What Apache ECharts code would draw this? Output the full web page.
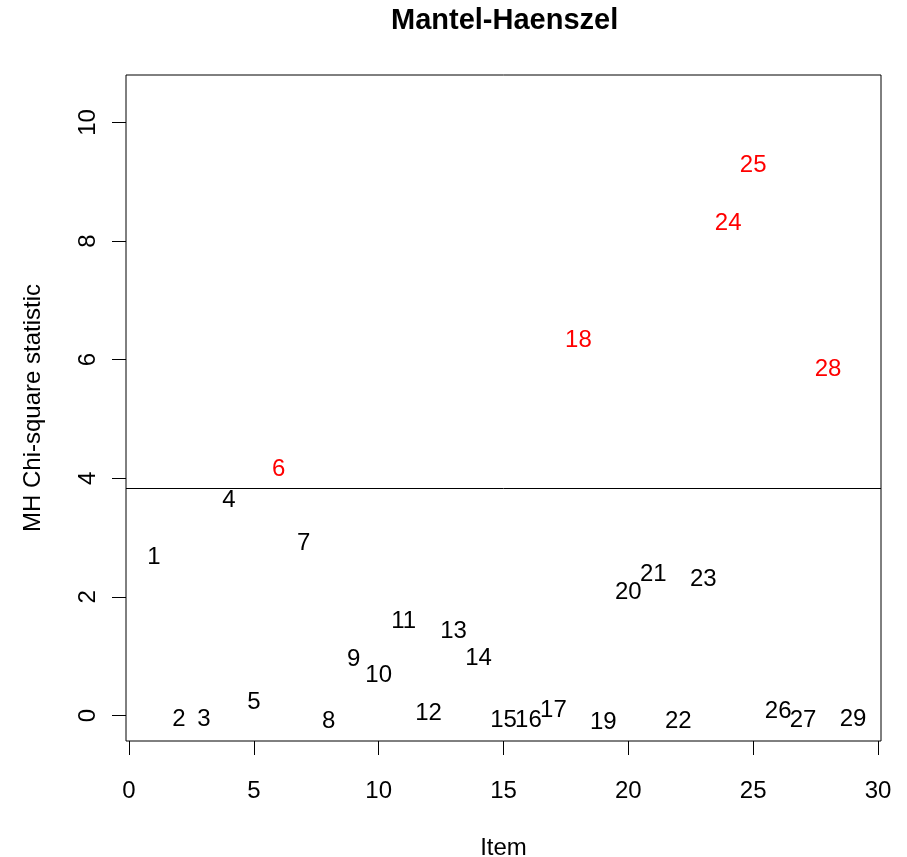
<!DOCTYPE html>
<html>
<head>
<meta charset="utf-8">
<title>Mantel-Haenszel</title>
<script src="https://cdn.jsdelivr.net/npm/echarts@6/dist/echarts.min.js"></script>
<style>
  html, body { margin: 0; padding: 0; background: #ffffff; }
  #chart { width: 907px; height: 857px; }
</style>
</head>
<body>
<div id="chart"></div>
<script>
// Item numbers and their Mantel-Haenszel chi-square statistics
const items = [1, 2, 3, 4, 5, 6, 7, 8, 9, 10, 11, 12, 13, 14, 15,
               16, 17, 18, 19, 20, 21, 22, 23, 24, 25, 26, 27, 28, 29];
const mhStat = [2.78, 0.05, 0.06, 3.74, 0.34, 4.26, 3.02, 0.02, 1.06, 0.79,
                1.70, 0.16, 1.53, 1.08, 0.03, 0.03, 0.20, 6.44, 0.01, 2.20,
                2.49, 0.02, 2.42, 8.42, 9.40, 0.19, 0.03, 5.95, 0.06];
// Items flagged as DIF (statistic above the threshold)
const difItems = [6, 18, 24, 25, 28];
// Chi-square critical value, 1 df, alpha = 0.05
const threshold = 3.8415;

const xTicks = [0, 5, 10, 15, 20, 25, 30];
const yTicks = [0, 2, 4, 6, 8, 10];

const FONT = 'Liberation Sans, Arial, Helvetica, sans-serif';

const pointData = items.map((it, i) => ({
  value: [it, mhStat[i]],
  label: { color: difItems.includes(it) ? '#ff0000' : '#000000' }
}));

const chart = echarts.init(document.getElementById('chart'), null, { renderer: 'canvas' });

chart.setOption({
  animation: false,
  backgroundColor: '#ffffff',
  // title is centred over the plotting box, not the whole canvas
  title: {
    text: 'Mantel-Haenszel',
    left: 386,
    top: 1,
    textStyle: { fontFamily: FONT, fontSize: 29, fontWeight: 'bold', color: '#000000' }
  },
  grid: {
    left: 126, right: 26, top: 75, bottom: 116,
    show: true, borderColor: '#000000', borderWidth: 1,
    containLabel: false,
    outerBoundsMode: 'none'
  },
  xAxis: {
    type: 'value',
    min: -0.12, max: 30.12,
    name: 'Item',
    nameLocation: 'middle',
    nameGap: 95,
    nameTextStyle: { fontFamily: FONT, fontSize: 24, color: '#000000' },
    axisLine: { show: false, onZero: false },
    splitLine: { show: false },
    axisTick: {
      show: true, customValues: xTicks, length: 14, inside: false,
      lineStyle: { color: '#000000', width: 1 }
    },
    axisLabel: {
      customValues: xTicks, margin: 38,
      fontFamily: FONT, fontSize: 24, color: '#000000'
    }
  },
  yAxis: {
    type: 'value',
    min: -0.43, max: 10.8,
    name: 'MH Chi-square statistic',
    nameLocation: 'middle',
    nameGap: 81,
    nameTextStyle: { fontFamily: FONT, fontSize: 24, color: '#000000' },
    axisLine: { show: false, onZero: false },
    splitLine: { show: false },
    axisTick: {
      show: true, customValues: yTicks, length: 14, inside: false,
      lineStyle: { color: '#000000', width: 1 }
    },
    axisLabel: {
      customValues: yTicks, margin: 26, rotate: 90,
      fontFamily: FONT, fontSize: 24, color: '#000000'
    }
  },
  series: [{
    type: 'scatter',
    data: pointData,
    symbolSize: 1,
    itemStyle: { color: '#000000', opacity: 0 },
    label: {
      show: true,
      position: 'inside',
      offset: [0, 7],
      opacity: 1,
      textBorderWidth: 0,
      formatter: p => String(p.value[0]),
      fontFamily: FONT,
      fontSize: 24
    },
    emphasis: { disabled: true },
    markLine: {
      silent: true,
      symbol: 'none',
      label: { show: false },
      lineStyle: { color: '#000000', width: 1, type: 'solid' },
      data: [{ yAxis: threshold }]
    }
  }]
});
</script>
</body>
</html>
